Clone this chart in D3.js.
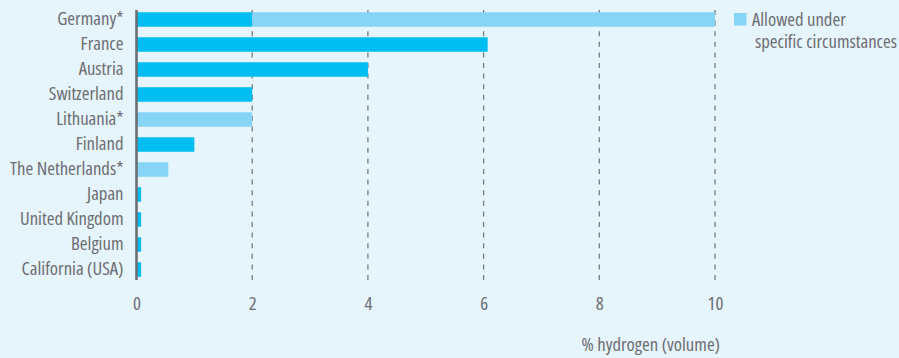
<!DOCTYPE html>
<html>
<head>
<meta charset="utf-8">
<script src="https://cdn.jsdelivr.net/npm/d3@7"></script>
<style>
  html, body { margin: 0; padding: 0; background: #e6f4fc; }
  svg { display: block; }
  text { font-family: "Open Sans", sans-serif; font-stretch: 75%; fill: #6d6e71; }
</style>
</head>
<body>
<script>
// Hydrogen blending limits in the natural gas grid, by country
const countries = ["Germany*", "France", "Austria", "Switzerland", "Lithuania*", "Finland",
  "The Netherlands*", "Japan", "United Kingdom", "Belgium", "California (USA)"];
// General limit (% hydrogen by volume)
const generalLimit = [2, 6.07, 4, 2, 0, 1, 0, 0.08, 0.08, 0.08, 0.08];
// Extra allowance under specific circumstances, stacked on the general limit
const specificLimit = [8, 0, 0, 0, 2, 0, 0.55, 0, 0, 0, 0];
const xTicks = [0, 2, 4, 6, 8, 10];
const legendLines = ["Allowed under", "specific circumstances"];
const axisTitle = "% hydrogen (volume)";

const W = 899, H = 358;
const colGeneral = "#00bdf2", colSpecific = "#87d5f6";
const FS = 18.7;

const svg = d3.select("body").append("svg").attr("width", W).attr("height", H);
svg.append("rect").attr("width", W).attr("height", H).attr("fill", "#e6f4fc");

const x = d3.scaleLinear().domain([0, 10]).range([136.5, 715]);
const y = d3.scaleBand().domain(countries).range([7, 282]).paddingInner(0.42).paddingOuter(0.21);

// dashed vertical gridlines
svg.append("g").selectAll("line").data(xTicks.filter(d => d > 0)).join("line")
  .attr("x1", d => x(d)).attr("x2", d => x(d))
  .attr("y1", 10).attr("y2", 280)
  .attr("stroke", "#7a7b7e").attr("stroke-width", 1.3)
  .attr("stroke-dasharray", "5,5.6");

// bars: general limit, then the specific-circumstance extension
const rows = countries.map((c, i) => ({ c, g: generalLimit[i], s: specificLimit[i] }));
const bars = svg.append("g");
bars.selectAll("rect.g").data(rows.filter(d => d.g > 0)).join("rect")
  .attr("class", "g")
  .attr("x", x(0)).attr("y", d => y(d.c))
  .attr("width", d => x(d.g) - x(0)).attr("height", y.bandwidth())
  .attr("fill", colGeneral);
bars.selectAll("rect.s").data(rows.filter(d => d.s > 0)).join("rect")
  .attr("class", "s")
  .attr("x", d => x(d.g)).attr("y", d => y(d.c))
  .attr("width", d => x(d.g + d.s) - x(d.g)).attr("height", y.bandwidth())
  .attr("fill", colSpecific);

// category labels
const yAxis = svg.append("g").attr("transform", `translate(${x(0)},0)`)
  .call(d3.axisLeft(y).tickSize(0).tickPadding(13));
yAxis.select(".domain").remove();
yAxis.selectAll("text").attr("font-size", FS).attr("fill", "#6d6e71")
  .style("font-family", '"Open Sans", sans-serif').style("font-stretch", "75%");

// x tick labels
const xAxis = svg.append("g").attr("transform", "translate(0,280)")
  .call(d3.axisBottom(x).tickValues(xTicks).tickSize(0).tickPadding(17).tickFormat(d3.format("d")));
xAxis.select(".domain").remove();
xAxis.selectAll("text").attr("font-size", FS).attr("fill", "#6d6e71")
  .style("font-family", '"Open Sans", sans-serif').style("font-stretch", "75%");

// vertical baseline at zero
svg.append("line").attr("x1", x(0)).attr("x2", x(0)).attr("y1", 10).attr("y2", 280)
  .attr("stroke", "#6d6e71").attr("stroke-width", 2.6);

// axis title
svg.append("text").attr("x", 720).attr("y", 351).attr("text-anchor", "end")
  .attr("font-size", FS).text(axisTitle);

// legend
const lg = svg.append("g");
lg.append("rect").attr("x", 734).attr("y", 13).attr("width", 12.5).attr("height", 12.5).attr("fill", colSpecific);
lg.selectAll("text").data(legendLines).join("text")
  .attr("x", (d, i) => i === 0 ? 752 : 755)
  .attr("y", (d, i) => 26 + i * 22)
  .attr("font-size", FS).text(d => d);
</script>
</body>
</html>
